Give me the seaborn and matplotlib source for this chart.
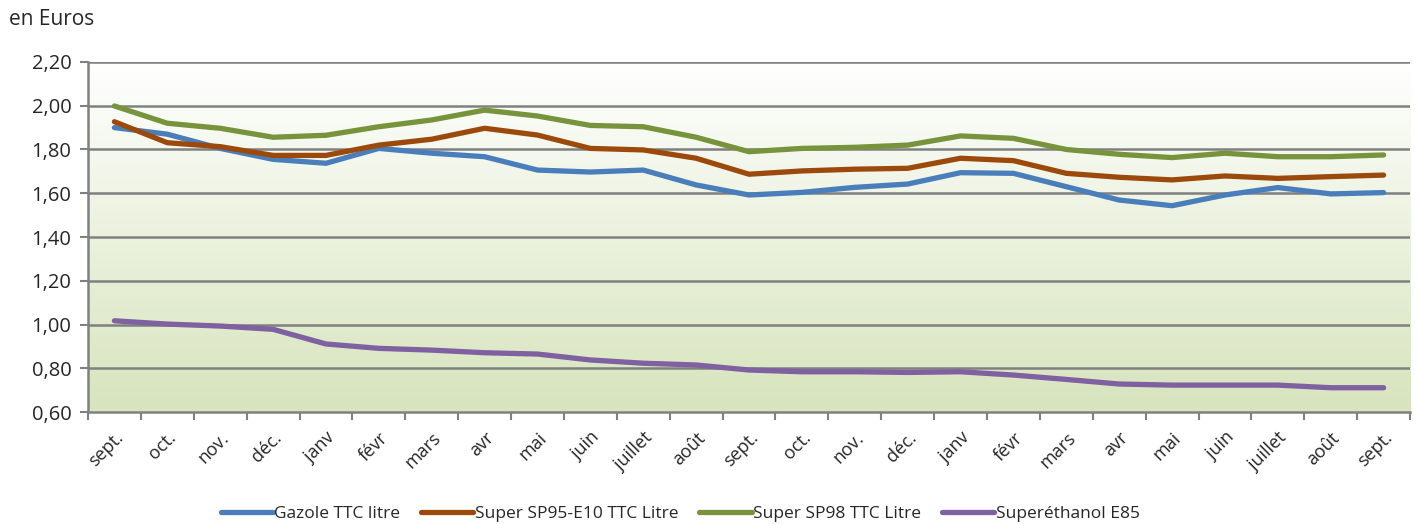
import numpy as np
import pandas as pd
import matplotlib
matplotlib.use("Agg")
import matplotlib.pyplot as plt
import seaborn as sns
from matplotlib.colors import LinearSegmentedColormap

months = ["sept.", "oct.", "nov.", "déc.", "janv", "févr", "mars", "avr", "mai", "juin",
          "juillet", "août", "sept.", "oct.", "nov.", "déc.", "janv", "févr", "mars", "avr",
          "mai", "juin", "juillet", "août", "sept."]

gazole = [1.90, 1.87, 1.805, 1.755, 1.737, 1.805, 1.783, 1.767, 1.706, 1.697, 1.706, 1.638,
          1.592, 1.604, 1.627, 1.642, 1.694, 1.691, 1.63, 1.569, 1.543, 1.592, 1.626, 1.597, 1.603]
sp95 = [1.927, 1.831, 1.813, 1.773, 1.773, 1.82, 1.847, 1.897, 1.866, 1.805, 1.798, 1.76,
        1.687, 1.702, 1.71, 1.714, 1.76, 1.749, 1.691, 1.673, 1.661, 1.679, 1.668, 1.676, 1.683]
sp98 = [1.999, 1.92, 1.897, 1.856, 1.865, 1.904, 1.935, 1.98, 1.953, 1.91, 1.904, 1.856,
        1.79, 1.805, 1.81, 1.82, 1.862, 1.851, 1.80, 1.778, 1.763, 1.783, 1.767, 1.767, 1.775]
e85 = [1.017, 1.002, 0.993, 0.978, 0.911, 0.891, 0.883, 0.871, 0.865, 0.838, 0.823, 0.815,
       0.792, 0.784, 0.784, 0.781, 0.784, 0.769, 0.749, 0.728, 0.723, 0.723, 0.723, 0.711, 0.711]

series_names = ["Gazole TTC litre", "Super SP95-E10 TTC Litre", "Super SP98 TTC Litre", "Superéthanol E85"]
series_values = [gazole, sp95, sp98, e85]
colors = ["#4a7ebb", "#9c4a0c", "#77933c", "#7f60a0"]

yticks = [0.60, 0.80, 1.00, 1.20, 1.40, 1.60, 1.80, 2.00, 2.20]

rows = []
for name, vals in zip(series_names, series_values):
    for i, v in enumerate(vals):
        rows.append({"pos": i, "val": v, "serie": name})
df = pd.DataFrame(rows)

sns.set_theme(style="white")
plt.rcParams['font.family'] = ['Open Sans', 'DejaVu Sans']

fig = plt.figure(figsize=(14.19, 5.24), dpi=100)
ax = fig.add_axes([0.062, 0.2137, 0.9317, 0.668])

n = len(months)
ax.set_xlim(-0.5, n - 0.5)
ax.set_ylim(0.60, 2.20)

# gradient background
cmap = LinearSegmentedColormap.from_list("bg", ["#d7e4bd", "#ffffff"])
grad = np.linspace(0, 1, 256).reshape(-1, 1)
ax.imshow(grad, aspect="auto", cmap=cmap, origin="lower",
          extent=[-0.5, n - 0.5, 0.60, 2.20], zorder=0)

for y in yticks[1:]:
    ax.axhline(y, color="#808080", lw=1.8, zorder=1)

sns.lineplot(data=df, x="pos", y="val", hue="serie", palette=colors,
             hue_order=series_names, linewidth=3.8, ax=ax, zorder=3,
             legend=True)
for line in ax.get_lines():
    line.set_solid_capstyle("round")

ax.set_xlim(-0.5, n - 0.5)
ax.set_ylim(0.60, 2.20)
ax.set_xlabel("")
ax.set_ylabel("")

ax.set_yticks(yticks)
ax.set_yticklabels([f"{v:.2f}".replace(".", ",") for v in yticks], fontsize=14.5, color="#262626")
ax.tick_params(axis="y", length=6, width=1.5, color="#808080", direction="out", left=True, pad=6)

ax.set_xticks(range(n))
ax.set_xticklabels(months, rotation=45, ha="right", rotation_mode="anchor", fontsize=13, color="#262626")
ax.tick_params(axis="x", which="major", length=0, pad=12)
ax.set_xticks(np.arange(-0.5, n, 1.0), minor=True)
ax.tick_params(axis="x", which="minor", length=6, width=1.5, color="#808080", direction="out", bottom=True)

for s in ["top", "right"]:
    ax.spines[s].set_visible(False)
for s in ["left", "bottom"]:
    ax.spines[s].set_color("#808080")
    ax.spines[s].set_linewidth(1.8)
    ax.spines[s].set_zorder(4)

leg = ax.legend(loc="center", bbox_to_anchor=(0.448, -0.29), ncol=4, frameon=False,
                fontsize=12.5, handlelength=3.0, handletextpad=0.1, columnspacing=1.2)
for h in leg.get_lines():
    h.set_linewidth(3.8)

fig.text(0.006, 0.962, "en Euros", fontsize=15, color="#262626", va="center", ha="left")

fig.savefig("out.png", dpi=100)
